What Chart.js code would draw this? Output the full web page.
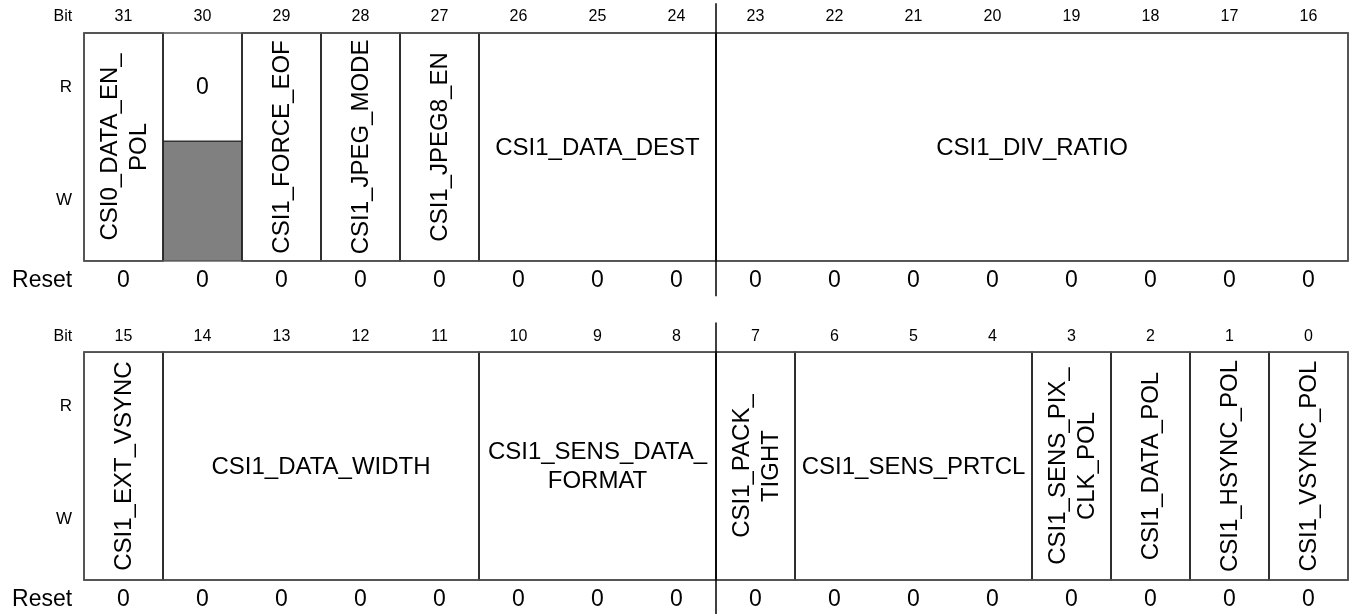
<!DOCTYPE html>
<html>
<head>
<meta charset="utf-8">
<script src="https://cdn.jsdelivr.net/npm/chart.js@4.4.1/dist/chart.umd.min.js"></script>
<style>
html,body{margin:0;padding:0;background:#fff;overflow:hidden}
canvas{display:block}
</style>
</head>
<body>
<canvas id="c" width="1350" height="614"></canvas>
<script>
// ---- data ----
const topBits = [31,30,29,28,27,26,25,24,23,22,21,20,19,18,17,16];
const bottomBits = [15,14,13,12,11,10,9,8,7,6,5,4,3,2,1,0];
const fieldNames = [
  'CSI0_DATA_EN_\nPOL','CSI1_FORCE_EOF','CSI1_JPEG_MODE','CSI1_JPEG8_EN','CSI1_DATA_DEST','CSI1_DIV_RATIO',
  'CSI1_EXT_VSYNC','CSI1_DATA_WIDTH','CSI1_SENS_DATA_\nFORMAT','CSI1_PACK_\nTIGHT','CSI1_SENS_PRTCL',
  'CSI1_SENS_PIX_\nCLK_POL','CSI1_DATA_POL','CSI1_HSYNC_POL','CSI1_VSYNC_POL'
];
const fieldMsb = [31,29,28,27,26,23,15,14,10,7,6,3,2,1,0];
const fieldLsb = [31,29,28,27,24,16,15,11,8,7,4,3,2,1,0];
const reservedBits = [30];
const reservedReadValues = ['0'];
const resetValues = [0,0,0,0,0,0,0,0,0,0,0,0,0,0,0,0, 0,0,0,0,0,0,0,0,0,0,0,0,0,0,0,0]; // bit 31 .. bit 0
const accessLabels = ['R','W'];
const rowTitles = ['Bit','Reset'];

// ---- layout helpers ----
const rowBase = b => (b >= 16 ? 2.8 : 0);
const col = b => b % 16;
const allBits = topBits.concat(bottomBits);
const FONT = '"Liberation Sans", Arial, Helvetica, sans-serif';

const resetPoints = allBits.map(b => ({ x: col(b) + 0.5, y: rowBase(b) - 0.17 }));

const regPlugin = {
  id: 'regPlugin',
  afterDraw(chart) {
    const { ctx } = chart;
    const xs = chart.scales.x, ys = chart.scales.y;
    const X = v => xs.getPixelForValue(v), Y = v => ys.getPixelForValue(v);
    ctx.save();
    const bases = [2.8, 0];

    // reserved cells: gray write half, read value
    reservedBits.forEach((b, i) => {
      const base = rowBase(b), c = col(b);
      const l = X(c + 1), r = X(c);
      ctx.fillStyle = '#808080';
      ctx.fillRect(l, Y(base + 1.05), r - l, Y(base) - Y(base + 1.05));
      ctx.strokeStyle = '#333';
      ctx.lineWidth = 1.5;
      ctx.beginPath();
      ctx.moveTo(l, Y(base + 1.05)); ctx.lineTo(r, Y(base + 1.05));
      ctx.moveTo(l, Y(base)); ctx.lineTo(l, Y(base + 2));
      ctx.moveTo(r, Y(base)); ctx.lineTo(r, Y(base + 2));
      ctx.stroke();
      ctx.fillStyle = '#000';
      ctx.font = '23px ' + FONT;
      ctx.textAlign = 'center'; ctx.textBaseline = 'middle';
      ctx.fillText(reservedReadValues[i], (l + r) / 2, Y(base + 1.52));
    });

    // fields
    fieldNames.forEach((name, i) => {
      const msb = fieldMsb[i], lsb = fieldLsb[i];
      const base = rowBase(msb);
      const l = X(col(msb) + 1), r = X(col(lsb));
      const t = Y(base + 2), btm = Y(base);
      ctx.strokeStyle = '#222';
      ctx.lineWidth = 1.5;
      ctx.strokeRect(l, t, r - l, btm - t);
      const lines = name.split('\n');
      const lh = 29;
      ctx.fillStyle = '#000';
      ctx.font = '24px ' + FONT;
      ctx.textAlign = 'center'; ctx.textBaseline = 'middle';
      const cx = (l + r) / 2, cy = (t + btm) / 2;
      const vertical = (msb === lsb);
      ctx.save();
      ctx.translate(cx, cy);
      if (vertical) ctx.rotate(-Math.PI / 2);
      lines.forEach((ln, k) => {
        ctx.fillText(ln, 0, (k - (lines.length - 1) / 2) * lh + 1);
      });
      ctx.restore();
    });

    // outer borders
    bases.forEach(base => {
      ctx.strokeStyle = '#555';
      ctx.lineWidth = 1.5;
      ctx.strokeRect(X(16), Y(base + 2), X(0) - X(16), Y(base) - Y(base + 2));
    });

    // byte divider
    bases.forEach(base => {
      ctx.strokeStyle = '#000';
      ctx.lineWidth = 1.5;
      ctx.beginPath();
      ctx.moveTo(X(8), Y(base + 2.26));
      ctx.lineTo(X(8), Y(base - 0.31));
      ctx.stroke();
    });

    // bit numbers
    ctx.fillStyle = '#000';
    ctx.textAlign = 'center'; ctx.textBaseline = 'middle';
    ctx.font = '16px ' + FONT;
    allBits.forEach(b => {
      ctx.fillText(String(b), X(col(b) + 0.5), Y(rowBase(b) + 2.14));
    });

    // reset values from dataset points
    const meta = chart.getDatasetMeta(0);
    ctx.font = '23px ' + FONT;
    meta.data.forEach((pt, i) => {
      ctx.fillText(String(resetValues[i]), pt.x, pt.y);
    });

    // row titles
    ctx.textAlign = 'right';
    bases.forEach(base => {
      ctx.font = '16px ' + FONT;
      ctx.fillText(rowTitles[0], X(16.15), Y(base + 2.14));
      ctx.font = '17px ' + FONT;
      ctx.fillText(accessLabels[0], X(16.15), Y(base + 1.52));
      ctx.fillText(accessLabels[1], X(16.15), Y(base + 0.53));
      ctx.font = '23px ' + FONT;
      ctx.fillText(rowTitles[1], X(16.15), Y(base - 0.17));
    });
    ctx.restore();
  }
};

new Chart(document.getElementById('c'), {
  type: 'scatter',
  data: { datasets: [{ label: 'Reset', data: resetPoints, pointRadius: 0, pointHoverRadius: 0, showLine: false }] },
  options: {
    responsive: false,
    animation: false,
    devicePixelRatio: 1,
    layout: { padding: { left: 84, right: 2, top: 33, bottom: 34 } },
    scales: {
      x: { type: 'linear', min: 0, max: 16, reverse: true, display: false },
      y: { type: 'linear', min: 0, max: 4.8, display: false }
    },
    plugins: { legend: { display: false }, tooltip: { enabled: false } }
  },
  plugins: [regPlugin]
});
</script>
</body>
</html>
